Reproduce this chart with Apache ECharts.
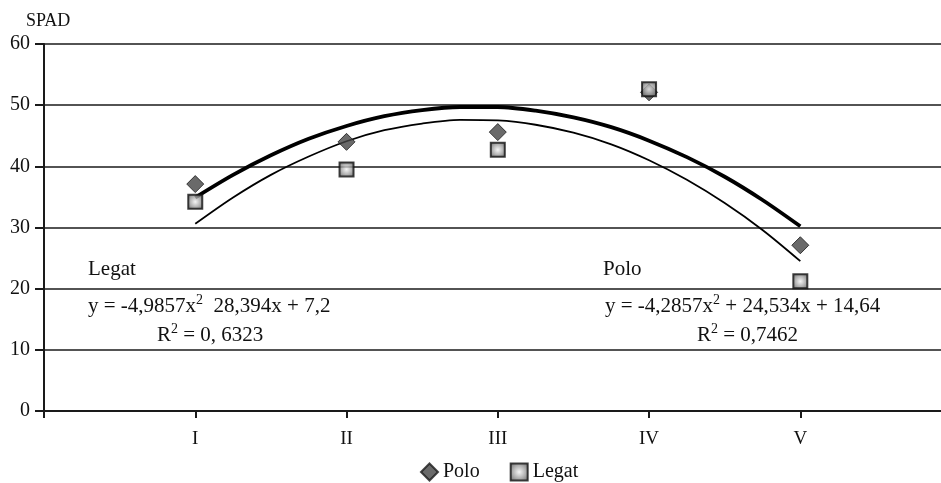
<!DOCTYPE html>
<html>
<head>
<meta charset="utf-8">
<script src="https://cdn.jsdelivr.net/npm/echarts@6/dist/echarts.min.js"></script>
<style>html,body{margin:0;padding:0;background:#fff}#c{width:941px;height:483px}</style>
</head>
<body>
<div id="c"></div>
<script>
const categories = ['I', 'II', 'III', 'IV', 'V'];
const catX = [1, 2, 3, 4, 5];
const poloValues = [37.1, 44.0, 45.6, 52.1, 27.1];
const legatValues = [34.2, 39.5, 42.7, 52.6, 21.2];
// trendline values at quarter-category steps
const trendX = [1, 1.25, 1.5, 1.75, 2, 2.25, 2.5, 2.75, 3, 3.25, 3.5, 3.75, 4, 4.25, 4.5, 4.75, 5];
const poloTrend = [34.9, 38.6, 41.8, 44.5, 46.6, 48.2, 49.2, 49.7, 49.7, 49.1, 48.0, 46.4, 44.2, 41.5, 38.3, 34.5, 30.2];
const legatTrend = [30.6, 34.9, 38.6, 41.6, 44.1, 45.9, 47.0, 47.6, 47.5, 46.8, 45.5, 43.6, 41.0, 37.8, 34.0, 29.6, 24.5];
const yTicks = [0, 10, 20, 30, 40, 50, 60];

const FONT = '"Liberation Serif", "DejaVu Serif", serif';
const pair = (xs, ys) => xs.map((x, i) => [x, ys[i]]);

const squareFill = new echarts.graphic.RadialGradient(0.5, 0.5, 0.7, [
  { offset: 0, color: '#f2f2f2' },
  { offset: 0.5, color: '#999' },
  { offset: 1, color: '#3a3a3a' }
]);

const richStyle = {
  n: { font: '21px ' + FONT, fill: '#111', lineHeight: 24, verticalAlign: 'bottom' },
  s: { font: '14px ' + FONT, fill: '#111', lineHeight: 24, verticalAlign: 'top', padding: [0, 0, 12, 0] }
};

const chart = echarts.init(document.getElementById('c'));
chart.setOption({
  animation: false,
  backgroundColor: '#fff',
  textStyle: { fontFamily: FONT },
  grid: { left: 44, right: 0, top: 44, bottom: 72 },
  legend: {
    data: ['Polo', 'Legat'],
    top: 457,
    left: 415,
    itemGap: 30,
    itemWidth: 17,
    itemHeight: 17,
    textStyle: { fontFamily: FONT, fontSize: 20, color: '#111' }
  },
  xAxis: {
    type: 'value',
    min: 0,
    max: 5.93,
    interval: 1,
    axisLine: { lineStyle: { color: '#1a1a1a', width: 2 } },
    axisTick: { show: true, length: 7, customValues: [0, 1, 2, 3, 4, 5], lineStyle: { color: '#1a1a1a', width: 2 } },
    splitLine: { show: false },
    axisLabel: {
      fontFamily: FONT, fontSize: 19, color: '#111', margin: 19, customValues: catX,
      formatter: v => { const i = catX.indexOf(Math.round(v)); return (Math.abs(v - Math.round(v)) < 1e-6 && i >= 0) ? categories[i] : ''; }
    }
  },
  yAxis: {
    type: 'value',
    min: yTicks[0],
    max: yTicks[yTicks.length - 1],
    interval: 10,
    axisLine: { show: true, lineStyle: { color: '#1a1a1a', width: 2 } },
    axisTick: { show: true, inside: false, length: 9, lineStyle: { color: '#1a1a1a', width: 2 } },
    splitLine: { show: true, lineStyle: { color: '#1a1a1a', width: 1.6 } },
    axisLabel: { fontFamily: FONT, fontSize: 20, color: '#111', margin: 14 }
  },
  series: [
    {
      name: 'Polo trend', type: 'line', data: pair(trendX, poloTrend), smooth: 0.3,
      showSymbol: false, lineStyle: { color: '#000', width: 3.8 }, z: 3, silent: true
    },
    {
      name: 'Legat trend', type: 'line', data: pair(trendX, legatTrend), smooth: 0.3,
      showSymbol: false, lineStyle: { color: '#000', width: 1.8 }, z: 3, silent: true
    },
    {
      name: 'Polo', type: 'scatter', data: pair(catX, poloValues), symbol: 'diamond', symbolSize: [17, 17],
      itemStyle: { color: '#454545', borderColor: '#1a1a1a', borderWidth: 1 }, z: 5
    },
    {
      name: 'Legat', type: 'scatter', data: pair(catX, legatValues), symbol: 'rect', symbolSize: 14,
      itemStyle: { color: squareFill, borderColor: '#111', borderWidth: 2 }, z: 6
    }
  ],
  graphic: [
    { type: 'text', left: 26, top: 12, style: { text: 'SPAD', font: '18px ' + FONT, fill: '#111' } },
    { type: 'text', left: 88, top: 259, style: { text: 'Legat', font: '21px ' + FONT, fill: '#111' } },
    { type: 'text', left: 88, top: 293, style: { text: '{n|y = -4,9857x}{s|2}{n|  28,394x + 7,2}', rich: richStyle } },
    { type: 'text', left: 157, top: 322, style: { text: '{n|R}{s|2}{n| = 0, 6323}', rich: richStyle } },
    { type: 'text', left: 603, top: 259, style: { text: 'Polo', font: '21px ' + FONT, fill: '#111' } },
    { type: 'text', left: 605, top: 293, style: { text: '{n|y = -4,2857x}{s|2}{n| + 24,534x + 14,64}', rich: richStyle } },
    { type: 'text', left: 697, top: 322, style: { text: '{n|R}{s|2}{n| = 0,7462}', rich: richStyle } }
  ]
});
</script>
</body>
</html>
